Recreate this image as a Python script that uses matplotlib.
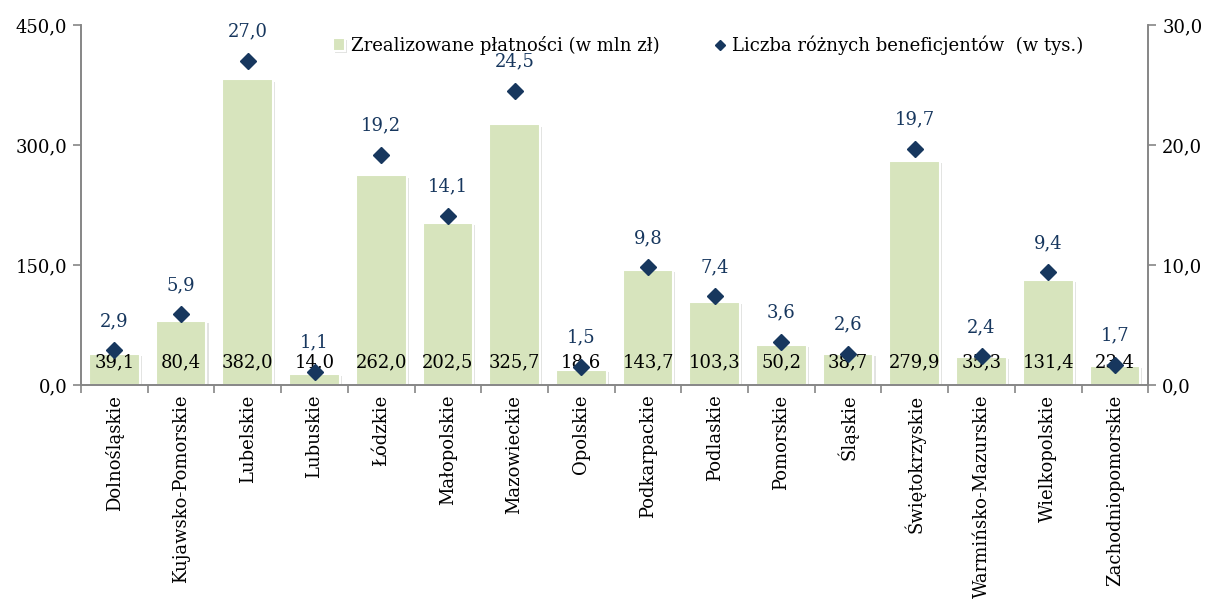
import numpy as np
import matplotlib.pyplot as plt
import matplotlib.patheffects as pe
from matplotlib.ticker import FuncFormatter

regions = ["Dolnośląskie", "Kujawsko-Pomorskie", "Lubelskie", "Lubuskie", "Łódzkie",
           "Małopolskie", "Mazowieckie", "Opolskie", "Podkarpackie", "Podlaskie",
           "Pomorskie", "Śląskie", "Świętokrzyskie", "Warmińsko-Mazurskie",
           "Wielkopolskie", "Zachodniopomorskie"]
payments = [39.1, 80.4, 382.0, 14.0, 262.0, 202.5, 325.7, 18.6, 143.7, 103.3,
            50.2, 38.7, 279.9, 35.3, 131.4, 23.4]
beneficiaries = [2.9, 5.9, 27.0, 1.1, 19.2, 14.1, 24.5, 1.5, 9.8, 7.4,
                 3.6, 2.6, 19.7, 2.4, 9.4, 1.7]

plt.rcParams['font.family'] = ['DejaVu Serif']
plt.rcParams['font.size'] = 13

bar_color = '#d7e4bd'
dot_color = '#17375e'
axis_color = '#868686'

def comma(v, pos=None):
    return f"{v:.1f}".replace('.', ',')

fig = plt.figure(figsize=(12.1, 6.03), dpi=100)
ax = fig.add_axes([0.067, 0.3615, 0.882, 0.597])
ax2 = ax.twinx()

x = np.arange(len(regions))
bars = ax.bar(x, payments, width=0.76, color=bar_color, edgecolor='white', linewidth=1.5,
              label='Zrealizowane płatności (w mln zł)', zorder=2)
for b in bars:
    b.set_path_effects([pe.SimplePatchShadow(offset=(1.5, -1.5), alpha=0.15), pe.Normal()])
ax2.plot(x, beneficiaries, linestyle='none', marker='D', markersize=8, color=dot_color,
         label='Liczba różnych beneficjentów  (w tys.)', zorder=3)

for xi, v in zip(x, payments):
    ax.annotate(comma(v), (xi, 0), xytext=(0, 16.5), textcoords='offset points',
                ha='center', va='center', color='black', fontsize=13, zorder=4)
for xi, v in zip(x, beneficiaries):
    ax2.annotate(comma(v), (xi, v), xytext=(0, 21), textcoords='offset points',
                 ha='center', va='center', color=dot_color, fontsize=13)

ax.set_xlim(-0.5, len(regions) - 0.5)
ax.set_ylim(0, 450)
ax2.set_ylim(0, 30)
ax.set_yticks([0, 150, 300, 450])
ax2.set_yticks([0, 10, 20, 30])
ax.yaxis.set_major_formatter(FuncFormatter(comma))
ax2.yaxis.set_major_formatter(FuncFormatter(comma))

ax.set_xticks(x)
ax.set_xticklabels(regions, rotation=90)
ax.set_xticks(np.arange(len(regions) + 1) - 0.5, minor=True)
ax.tick_params(axis='x', which='major', length=0, pad=7)
ax.tick_params(axis='x', which='minor', length=6, color=axis_color, width=1.2)
ax.tick_params(axis='y', length=6, color=axis_color, width=1.2, pad=4)
ax2.tick_params(axis='y', length=6, color=axis_color, width=1.2, pad=4)

for a in (ax, ax2):
    a.spines['top'].set_visible(False)
    for s in ('left', 'right', 'bottom'):
        a.spines[s].set_color(axis_color)
        a.spines[s].set_linewidth(1.2)

h1, l1 = ax.get_legend_handles_labels()
h2, l2 = ax2.get_legend_handles_labels()
fig.legend(h1 + h2, l1 + l2, loc='center left', bbox_to_anchor=(0.275, 0.925), ncol=2,
           frameon=False, fontsize=13, handlelength=0.7, handletextpad=0.3,
           columnspacing=3.0, markerscale=0.7, borderaxespad=0, borderpad=0)

fig.savefig('out.png', dpi=100)
